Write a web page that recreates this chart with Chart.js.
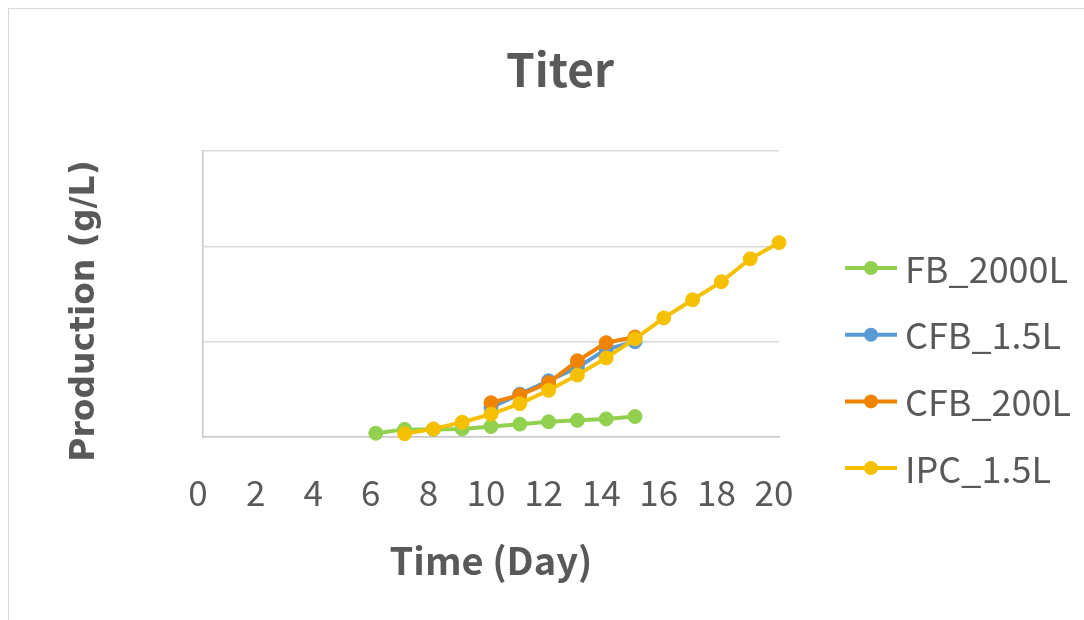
<!DOCTYPE html>
<html>
<head>
<meta charset="utf-8">
<script src="https://cdn.jsdelivr.net/npm/chart.js@4.4.1/dist/chart.umd.min.js"></script>
<style>
  body { margin: 0; background: #fff; overflow: hidden; }
  #frame { position: absolute; left: 8px; top: 8px; width: 1200px; height: 700px; border: 1px solid #d9d9d9; }
  #wrap { position: absolute; left: 0; top: 0; width: 1084px; height: 620px; }
</style>
</head>
<body>
<div id="frame"></div>
<div id="wrap"><canvas id="graph1" width="1084" height="620"></canvas></div>
<script>
// titer (g/L) against culture day for each process
const fbDays = [6, 7, 8, 9, 10, 11, 12, 13, 14, 15];
const fbTiter = [0.04, 0.08, 0.08, 0.085, 0.11, 0.135, 0.16, 0.175, 0.19, 0.215];

const cfbDays = [10, 11, 12, 13, 14, 15];
const cfb15Titer = [0.31, 0.45, 0.59, 0.73, 0.92, 1.0];
const cfb200Titer = [0.36, 0.44, 0.57, 0.80, 0.99, 1.05];

const ipcDays = [7, 8, 9, 10, 11, 12, 13, 14, 15, 16, 17, 18, 19, 20];
const ipcTiter = [0.035, 0.085, 0.155, 0.24, 0.35, 0.49, 0.65, 0.83, 1.03, 1.25, 1.44, 1.63, 1.87, 2.04];

const dayTicks = [0, 2, 4, 6, 8, 10, 12, 14, 16, 18, 20];
const titerGrid = [0, 1, 2, 3];

const seriesNames = ["FB_2000L", "CFB_1.5L", "CFB_200L", "IPC_1.5L"];
const seriesColors = ["#92D050", "#5B9BD5", "#F08400", "#F5C000"];

const textColor = "#595959";
const cjk = "'Noto Sans CJK TC', 'Noto Sans CJK JP', 'Noto Sans', sans-serif";

function pairs(xs, ys) {
    return xs.map((x, i) => ({ x: x, y: ys[i] }));
}

function series(i, days, values) {
    return {
        label: seriesNames[i],
        data: pairs(days, values),
        borderColor: seriesColors[i],
        backgroundColor: seriesColors[i],
        pointBackgroundColor: seriesColors[i],
        pointBorderColor: seriesColors[i],
        borderWidth: 4,
        pointRadius: 7,
        pointBorderWidth: 1,
        pointHoverRadius: 7,
        tension: 0,
        clip: false,
        order: 3 - i
    };
}

// y title and the line-with-dot legend sit outside the plot, drawn here
const sideText = {
    id: "sideText",
    afterDraw(chart) {
        const ctx = chart.ctx;
        ctx.save();
        ctx.fillStyle = textColor;
        ctx.textBaseline = "middle";

        ctx.save();
        ctx.translate(85, 311);
        ctx.rotate(-Math.PI / 2);
        ctx.textAlign = "center";
        ctx.font = "bold 33px 'DejaVu Sans'";
        ctx.fillText("Production (g/L)", 0, 0);
        ctx.restore();

        ctx.font = "36px " + cjk;
        ctx.textAlign = "left";
        chart.data.datasets.forEach((ds, i) => {
            const y = 268 + i * 66.7;
            ctx.strokeStyle = ds.borderColor;
            ctx.lineWidth = 4;
            ctx.beginPath();
            ctx.moveTo(845, y);
            ctx.lineTo(897, y);
            ctx.stroke();
            ctx.fillStyle = ds.borderColor;
            ctx.beginPath();
            ctx.arc(871, y, 7, 0, Math.PI * 2);
            ctx.fill();
            ctx.fillStyle = textColor;
            ctx.fillText(ds.label, 905, y + 1);
        });
        ctx.restore();
    }
};

new Chart(document.getElementById("graph1"), {
    type: "line",
    data: {
        datasets: [
            series(0, fbDays, fbTiter),
            series(1, cfbDays, cfb15Titer),
            series(2, cfbDays, cfb200Titer),
            series(3, ipcDays, ipcTiter)
        ]
    },
    plugins: [sideText],
    options: {
        responsive: false,
        animation: false,
        events: [],
        layout: { padding: { left: 36, right: 0, top: 0, bottom: 0 } },
        plugins: {
            title: {
                display: true,
                text: "Titer",
                color: textColor,
                font: { family: cjk, size: 46, weight: "bold" },
                padding: { top: 42, bottom: 54 }
            },
            legend: { display: false },
            tooltip: { enabled: false }
        },
        scales: {
            x: {
                type: "linear",
                min: 0,
                max: 20,
                afterBuildTicks: s => { s.ticks = dayTicks.map(v => ({ value: v })); },
                afterFit: s => { s.height = 183; },
                grid: { display: false, drawTicks: false },
                border: { display: true, color: "#c8c8c8", width: 1.5 },
                ticks: {
                    color: textColor,
                    font: { family: cjk, size: 35 },
                    padding: 35,
                    labelOffset: -5,
                    maxRotation: 0,
                    autoSkip: false
                },
                title: {
                    display: true,
                    text: "Time (Day)",
                    color: textColor,
                    font: { family: cjk, size: 38, weight: "bold" },
                    padding: { top: 0, bottom: 37 }
                }
            },
            y: {
                min: 0,
                max: 3,
                afterBuildTicks: s => { s.ticks = titerGrid.map(v => ({ value: v })); },
                afterFit: s => { s.width = 203 - 36; },
                grid: { color: "#d9d9d9", lineWidth: 1.5, drawTicks: false },
                border: { display: true, color: "#c8c8c8", width: 1.5 },
                ticks: { display: false }
            },
            gap: {
                position: "right",
                display: true,
                afterFit: s => { s.width = 1084 - 779; },
                grid: { display: false, drawTicks: false },
                border: { display: false },
                ticks: { display: false }
            }
        }
    }
});
</script>
</body>
</html>
